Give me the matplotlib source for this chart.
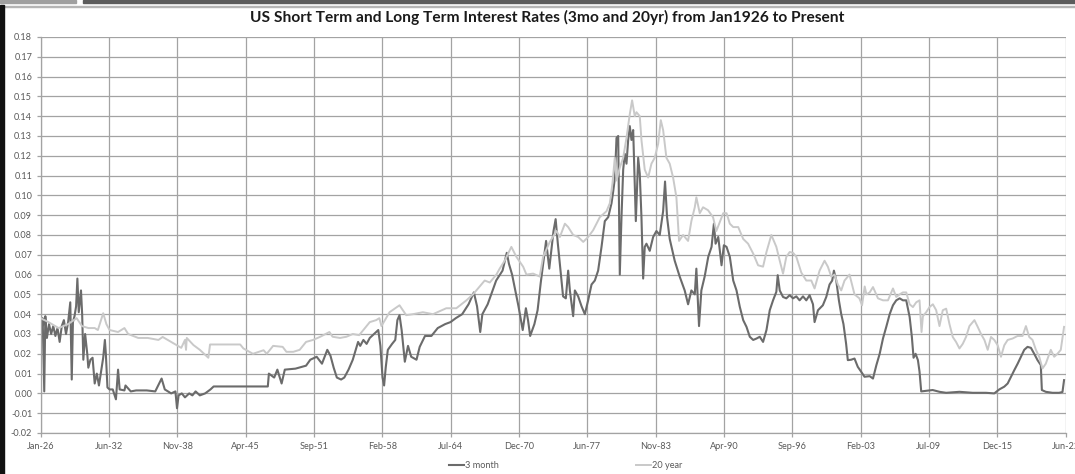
import matplotlib
matplotlib.use("Agg")
import matplotlib.pyplot as plt
from matplotlib.patches import Rectangle

# ==========================
# DATA (decimal years)
# ==========================
T3M_YEAR = [
    1926.0, 1926.1, 1926.2, 1926.35, 1926.45, 1926.6, 1926.8, 1927.0, 1927.2, 1927.4,
    1927.6, 1927.8, 1928.0, 1928.2, 1928.4, 1928.6, 1928.8, 1928.94, 1929.05, 1929.2,
    1929.35, 1929.47, 1929.6, 1929.7, 1929.81, 1929.92, 1930.03, 1930.2, 1930.4, 1930.5,
    1930.7, 1930.9, 1931.1, 1931.3, 1931.5, 1931.7, 1931.9, 1932.06, 1932.15, 1932.3,
    1932.5, 1932.8, 1933.1, 1933.3, 1933.45, 1933.9, 1934.0, 1934.5, 1935.0, 1936.0,
    1936.8, 1937.4, 1937.7, 1938.3, 1938.7, 1938.85, 1939.0, 1939.3, 1939.6, 1940.0,
    1940.3, 1940.6, 1941.0, 1941.5, 1942.0, 1942.3, 1945.0, 1947.4, 1947.5, 1948.0,
    1948.3, 1948.7, 1949.0, 1950.0, 1951.0, 1951.4, 1952.0, 1952.5, 1953.0, 1953.3,
    1953.6, 1953.9, 1954.3, 1954.6, 1955.0, 1955.4, 1955.9, 1956.1, 1956.4, 1956.7,
    1957.0, 1957.4, 1957.8, 1958.0, 1958.2, 1958.35, 1958.5, 1958.7, 1959.1, 1959.4,
    1959.6, 1959.8, 1960.0, 1960.3, 1960.6, 1960.9, 1961.4, 1961.7, 1962.2, 1962.8,
    1963.4, 1964.1, 1964.6, 1965.1, 1965.7, 1966.3, 1966.8, 1967.1, 1967.4, 1967.6,
    1968.1, 1968.4, 1968.9, 1969.5, 1969.9, 1970.1, 1970.4, 1970.7, 1971.0, 1971.4,
    1971.7, 1971.9, 1972.1, 1972.5, 1972.8, 1973.1, 1973.6, 1973.9, 1974.3, 1974.5,
    1974.7, 1975.0, 1975.2, 1975.46, 1975.68, 1975.84, 1976.15, 1976.31, 1976.62, 1976.94,
    1977.25, 1977.56, 1977.88, 1978.19, 1978.5, 1978.82, 1979.13, 1979.45, 1979.76, 1979.92,
    1980.08, 1980.23, 1980.39, 1980.54, 1980.7, 1980.86, 1981.01, 1981.17, 1981.33, 1981.48,
    1981.64, 1981.8, 1982.05, 1982.27, 1982.42, 1982.58, 1982.74, 1982.89, 1983.05, 1983.36,
    1983.68, 1983.99, 1984.3, 1984.62, 1984.8, 1984.99, 1985.24, 1985.71, 1986.18, 1986.65,
    1986.97, 1987.28, 1987.6, 1987.75, 1988.0, 1988.22, 1988.53, 1988.87, 1989.18, 1989.4,
    1989.56, 1989.81, 1990.12, 1990.34, 1990.59, 1990.9, 1991.22, 1991.53, 1991.84, 1992.16,
    1992.47, 1992.78, 1993.1, 1993.41, 1993.72, 1994.03, 1994.35, 1994.66, 1994.97, 1995.28,
    1995.41, 1995.6, 1995.91, 1996.22, 1996.54, 1996.85, 1997.16, 1997.47, 1997.79, 1998.1,
    1998.41, 1998.73, 1998.88, 1999.2, 1999.66, 1999.98, 2000.29, 2000.54, 2000.7, 2000.92,
    2001.17, 2001.39, 2001.6, 2001.85, 2002.01, 2002.32, 2002.64, 2002.95, 2003.26, 2003.58,
    2004.07, 2004.38, 2004.7, 2005.01, 2005.32, 2005.63, 2005.95, 2006.26, 2006.57, 2006.89,
    2007.2, 2007.51, 2007.83, 2008.04, 2008.2, 2008.39, 2008.61, 2008.76, 2008.92, 2009.39,
    2010.0, 2010.64, 2011.27, 2012.52, 2013.77, 2015.02, 2015.8, 2016.27, 2016.74, 2017.06,
    2017.37, 2017.68, 2018.0, 2018.31, 2018.62, 2018.93, 2019.25, 2019.56, 2019.87, 2020.18,
    2020.28, 2020.65, 2021.28, 2021.9, 2022.22, 2022.37,
]
T3M_RATE = [
    0.040, 0.031, 0.038, 0.001, 0.039, 0.028, 0.035, 0.030, 0.034, 0.029,
    0.033, 0.026, 0.034, 0.037, 0.030, 0.036, 0.046, 0.007, 0.036, 0.039,
    0.044, 0.058, 0.041, 0.046, 0.052, 0.040, 0.017, 0.030, 0.020, 0.013,
    0.017, 0.018, 0.005, 0.010, 0.004, 0.011, 0.018, 0.027, 0.020, 0.003,
    0.002, 0.002, -0.003, 0.012, 0.002, 0.0015, 0.004, 0.001, 0.0015, 0.0015,
    0.001, 0.0075, 0.002, 0.000, 0.001, -0.0075, -0.001, 0.000, -0.002, 0.000,
    -0.001, 0.001, -0.001, 0.000, 0.002, 0.0035, 0.0035, 0.0035, 0.010, 0.008,
    0.012, 0.005, 0.012, 0.0125, 0.014, 0.017, 0.0185, 0.015, 0.022, 0.019,
    0.013, 0.008, 0.007, 0.008, 0.012, 0.017, 0.026, 0.024, 0.027, 0.025,
    0.028, 0.030, 0.032, 0.024, 0.008, 0.004, 0.013, 0.022, 0.025, 0.027,
    0.037, 0.0395, 0.032, 0.016, 0.024, 0.0185, 0.017, 0.0235, 0.029, 0.029,
    0.033, 0.035, 0.036, 0.038, 0.040, 0.045, 0.051, 0.044, 0.031, 0.040,
    0.045, 0.0495, 0.057, 0.062, 0.071, 0.0655, 0.060, 0.052, 0.044, 0.032,
    0.043, 0.037, 0.029, 0.035, 0.042, 0.056, 0.077, 0.063, 0.082, 0.088,
    0.076, 0.060, 0.049, 0.048, 0.062, 0.052, 0.039, 0.052, 0.049, 0.044,
    0.040, 0.047, 0.055, 0.057, 0.062, 0.074, 0.087, 0.089, 0.096, 0.102,
    0.109, 0.129, 0.130, 0.060, 0.089, 0.113, 0.121, 0.116, 0.128, 0.135,
    0.128, 0.133, 0.087, 0.119, 0.111, 0.089, 0.058, 0.074, 0.0756, 0.072,
    0.079, 0.082, 0.080, 0.092, 0.107, 0.089, 0.078, 0.067, 0.059, 0.052,
    0.045, 0.052, 0.050, 0.063, 0.034, 0.052, 0.059, 0.069, 0.074, 0.0857,
    0.0756, 0.079, 0.0647, 0.0748, 0.074, 0.069, 0.057, 0.052, 0.0437, 0.037,
    0.0336, 0.0286, 0.027, 0.0277, 0.0286, 0.026, 0.032, 0.042, 0.047, 0.0513,
    0.0597, 0.052, 0.0487, 0.048, 0.0496, 0.048, 0.049, 0.047, 0.049, 0.047,
    0.0496, 0.045, 0.036, 0.042, 0.0445, 0.0487, 0.055, 0.057, 0.062, 0.057,
    0.047, 0.040, 0.035, 0.025, 0.0168, 0.017, 0.0176, 0.0134, 0.011, 0.0084,
    0.0087, 0.0075, 0.0143, 0.020, 0.0277, 0.0336, 0.040, 0.0445, 0.047, 0.048,
    0.047, 0.047, 0.0386, 0.0285, 0.018, 0.020, 0.0168, 0.011, 0.001, 0.0013,
    0.0017, 0.0008, 0.0003, 0.0008, 0.0003, 0.0003, 0.0, 0.002, 0.0034, 0.005,
    0.0084, 0.0117, 0.015, 0.0185, 0.022, 0.0235, 0.023, 0.020, 0.0168, 0.0143,
    0.0017, 0.0008, 0.0003, 0.0003, 0.0007, 0.0067,
]

T20Y_YEAR = [
    1926.0, 1926.75, 1927.7, 1928.6, 1929.4, 1929.9, 1930.5, 1931.1, 1931.4, 1931.9,
    1932.2, 1932.5, 1933.3, 1933.9, 1934.25, 1935.2, 1936.1, 1937.1, 1937.5, 1938.3,
    1939.25, 1939.6, 1939.7, 1939.77, 1940.4, 1941.0, 1941.6, 1941.8, 1941.96, 1944.15,
    1944.8, 1945.1, 1946.0, 1947.0, 1947.3, 1947.9, 1948.8, 1949.15, 1949.8, 1950.4,
    1951.0, 1951.66, 1952.3, 1953.2, 1953.5, 1954.2, 1954.8, 1955.4, 1956.0, 1957.0,
    1957.6, 1957.9, 1958.1, 1958.86, 1959.8, 1960.43, 1961.06, 1962.0, 1962.95, 1964.2,
    1965.15, 1966.1, 1966.72, 1967.35, 1967.82, 1968.3, 1968.92, 1969.23, 1969.7, 1970.33,
    1970.8, 1971.44, 1971.75, 1972.38, 1973.0, 1973.32, 1973.95, 1974.58, 1974.9, 1975.37,
    1975.68, 1976.15, 1976.62, 1977.1, 1977.56, 1978.03, 1978.66, 1979.29, 1979.6, 1979.85,
    1980.07, 1980.23, 1980.54, 1980.86, 1981.17, 1981.48, 1981.7, 1981.95, 1982.11, 1982.42,
    1982.58, 1982.89, 1983.21, 1983.52, 1983.83, 1984.15, 1984.4, 1984.62, 1984.93, 1985.24,
    1985.56, 1985.87, 1986.12, 1986.5, 1986.97, 1987.28, 1987.6, 1987.75, 1988.07, 1988.38,
    1988.85, 1989.32, 1989.63, 1989.96, 1990.28, 1990.59, 1990.9, 1991.22, 1991.69, 1992.16,
    1992.62, 1993.1, 1993.56, 1994.03, 1994.35, 1994.81, 1995.28, 1995.6, 1995.91, 1996.22,
    1996.54, 1996.85, 1997.16, 1997.63, 1998.1, 1998.57, 1998.88, 1999.35, 1999.82, 2000.13,
    2000.45, 2000.76, 2001.07, 2001.39, 2001.7, 2002.17, 2002.64, 2003.1, 2003.35, 2003.6,
    2003.76, 2004.07, 2004.38, 2004.85, 2005.32, 2005.79, 2006.26, 2006.57, 2006.89, 2007.2,
    2007.51, 2007.83, 2008.14, 2008.45, 2008.76, 2008.95, 2009.08, 2009.39, 2009.7, 2010.02,
    2010.33, 2010.64, 2010.95, 2011.27, 2011.58, 2011.89, 2012.2, 2012.52, 2012.83, 2013.14,
    2013.46, 2013.93, 2014.24, 2014.55, 2014.87, 2015.18, 2015.49, 2015.8, 2016.12, 2016.43,
    2016.74, 2017.06, 2017.52, 2017.99, 2018.46, 2018.78, 2019.09, 2019.4, 2019.72, 2020.03,
    2020.34, 2020.65, 2021.12, 2021.44, 2021.75, 2022.06, 2022.37,
]
T20Y_RATE = [
    0.038, 0.036, 0.033, 0.035, 0.038, 0.034, 0.033, 0.033, 0.032, 0.0405,
    0.035, 0.032, 0.031, 0.033, 0.030, 0.028, 0.028, 0.027, 0.0285, 0.026,
    0.023, 0.027, 0.022, 0.028, 0.0244, 0.022, 0.019, 0.018, 0.0247, 0.0247,
    0.0247, 0.0227, 0.020, 0.0218, 0.020, 0.024, 0.0235, 0.021, 0.021, 0.022,
    0.026, 0.027, 0.0285, 0.031, 0.0286, 0.028, 0.0286, 0.030, 0.0294, 0.036,
    0.037, 0.038, 0.034, 0.041, 0.0445, 0.0395, 0.040, 0.041, 0.040, 0.043,
    0.043, 0.047, 0.050, 0.054, 0.057, 0.056, 0.060, 0.063, 0.067, 0.074,
    0.069, 0.064, 0.060, 0.0605, 0.059, 0.069, 0.0765, 0.082, 0.079, 0.0857,
    0.084, 0.080, 0.079, 0.0765, 0.079, 0.0824, 0.089, 0.092, 0.096, 0.106,
    0.119, 0.1075, 0.114, 0.119, 0.129, 0.141, 0.148, 0.140, 0.142, 0.140,
    0.128, 0.113, 0.109, 0.116, 0.119, 0.126, 0.138, 0.133, 0.119, 0.116,
    0.109, 0.099, 0.077, 0.080, 0.077, 0.087, 0.094, 0.099, 0.091, 0.094,
    0.0925, 0.089, 0.082, 0.0866, 0.091, 0.091, 0.0857, 0.084, 0.084, 0.078,
    0.0756, 0.0706, 0.0647, 0.064, 0.0714, 0.080, 0.074, 0.067, 0.0605, 0.069,
    0.0714, 0.071, 0.069, 0.061, 0.057, 0.057, 0.053, 0.062, 0.067, 0.064,
    0.059, 0.060, 0.055, 0.052, 0.057, 0.060, 0.050, 0.048, 0.0445, 0.054,
    0.050, 0.051, 0.0537, 0.048, 0.047, 0.047, 0.053, 0.0487, 0.050, 0.051,
    0.051, 0.045, 0.0436, 0.046, 0.047, 0.031, 0.039, 0.041, 0.0436, 0.045,
    0.042, 0.034, 0.042, 0.0428, 0.035, 0.0285, 0.026, 0.0227, 0.025, 0.0285,
    0.034, 0.037, 0.0336, 0.030, 0.027, 0.022, 0.0285, 0.027, 0.0243, 0.0185,
    0.0243, 0.027, 0.0277, 0.029, 0.029, 0.034, 0.0285, 0.027, 0.022, 0.0185,
    0.0126, 0.015, 0.022, 0.0185, 0.020, 0.022, 0.0336,
]

X_TICK_LABELS = ["Jan-26", "Jun-32", "Nov-38", "Apr-45", "Sep-51", "Feb-58", "Jul-64", "Dec-70",
                 "Jun-77", "Nov-83", "Apr-90", "Sep-96", "Feb-03", "Jul-09", "Dec-15", "Jun-22"]
Y_TICKS = [i / 100 for i in range(-2, 19)]

TITLE = "US Short Term and Long Term Interest Rates (3mo and 20yr) from Jan1926 to Present"

# ==========================
# STYLE
# ==========================
DARK = "#6b6b6b"
LIGHT = "#c9c9c9"
GRID = "#a3a3a3"
TEXT = "#595959"
FONT = "Lato"
TICK_SIZE = 6.6

# excel date axis: one major unit = 2350 days
STEP = 2350 / 365.25
x_ticks = [1926.0 + k * STEP for k in range(len(X_TICK_LABELS))]

# ==========================
# PLOT
# ==========================
fig = plt.figure(figsize=(10.75, 4.74), dpi=100)
ax = fig.add_axes([0.0377, 0.0865, 0.9535, 0.8355])

l20, = ax.plot(T20Y_YEAR, T20Y_RATE, color=LIGHT, lw=1.4, zorder=3, label="20 year")
l3, = ax.plot(T3M_YEAR, T3M_RATE, color=DARK, lw=1.5, zorder=2, label="3 month")

ax.set_xlim(x_ticks[0], x_ticks[-1])
ax.set_ylim(-0.02, 0.18)
ax.set_xticks(x_ticks)
ax.set_xticklabels(X_TICK_LABELS)
ax.set_yticks(Y_TICKS)
ax.set_yticklabels([f"{v:.2f}" for v in Y_TICKS])

ax.grid(True, color=GRID, lw=0.9)
ax.set_axisbelow(True)
for s in ["top", "right"]:
    ax.spines[s].set_visible(False)
for s in ["left", "bottom"]:
    ax.spines[s].set_color(GRID)
    ax.spines[s].set_linewidth(0.9)

ax.tick_params(axis="both", length=3, width=0.9, color=GRID, labelcolor=TEXT, labelsize=TICK_SIZE)
ax.tick_params(axis="x", pad=3.5)
ax.tick_params(axis="y", pad=3)
for t in ax.get_xticklabels() + ax.get_yticklabels():
    t.set_family(FONT)

fig.text(0.509, 0.963, TITLE, ha="center", va="center", fontsize=11.2,
         fontweight="bold", family=FONT, color="#1a1a1a")

leg = fig.legend(handles=[l3, l20], loc="center", bbox_to_anchor=(0.526, 0.017), ncol=2,
                 frameon=False, handlelength=1.6, handletextpad=0.1, columnspacing=15,
                 prop={"family": FONT, "size": TICK_SIZE})
for t in leg.get_texts():
    t.set_color(TEXT)

# window chrome around the excel chart
fig.patches.append(Rectangle((0, 0.993), 0.0707, 0.007, transform=fig.transFigure,
                             color="#a0a0a0", zorder=10))
fig.patches.append(Rectangle((0.0772, 0.993), 0.93, 0.007, transform=fig.transFigure,
                             color="#5c5c5c", zorder=10))
fig.patches.append(Rectangle((0, 0.986), 1, 0.002, transform=fig.transFigure,
                             color="#b5b5b5", zorder=10))
fig.patches.append(Rectangle((0, 0), 0.0035, 0.99, transform=fig.transFigure,
                             color="#111111", zorder=10))

fig.savefig("out.png", dpi=100)
